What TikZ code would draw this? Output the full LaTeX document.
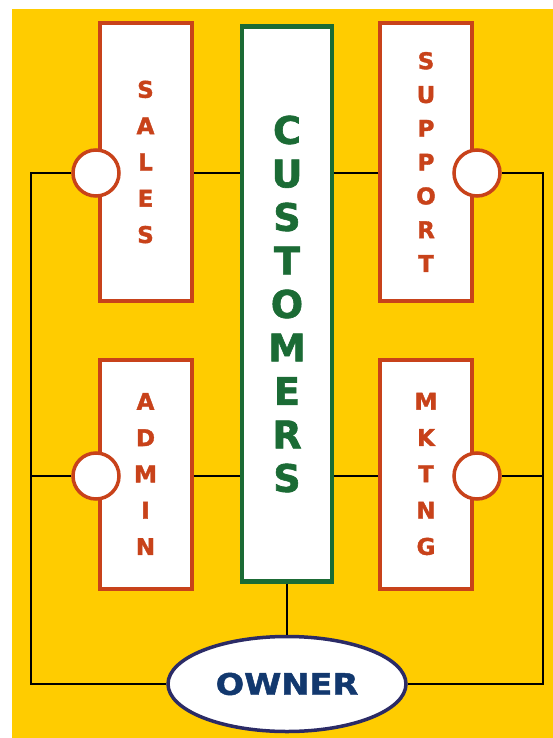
\documentclass[tikz,border=0pt]{standalone}
\usepackage{fontspec}
\usepackage{tikz}
\usetikzlibrary{shapes.geometric}
\newfontfamily\boxfont{DejaVu Sans}[FakeBold=1.6]
\newfontfamily\ownerfont{DejaVu Sans}[FakeStretch=1.14,FakeBold=1.6]
\definecolor{bgYellow}{RGB}{255,204,0}
\definecolor{deptRed}{RGB}{200,66,26}
\definecolor{custGreen}{RGB}{27,107,53}
\definecolor{ownNavy}{RGB}{18,56,110}
\definecolor{ownRim}{RGB}{43,43,102}
\tikzset{
  dept/.style={draw=deptRed,line width=4pt,fill=white,minimum width=92pt,
    inner sep=0pt,align=center,text=deptRed,
    font=\boxfont\bfseries\fontsize{23}{36.3}\selectfont},
  port/.style={circle,draw=deptRed,line width=3.5pt,fill=white,minimum size=46pt,inner sep=0pt},
  link/.style={black,line width=1.4pt}
}
\begin{document}
\begin{tikzpicture}[x=1pt,y=-1pt]
  \useasboundingbox (0,0) rectangle (553,738);
  \fill[white] (0,0) rectangle (553,738);
  \fill[bgYellow] (12,9) rectangle (553,738);
  % departments
  \node[dept,minimum height=277pt] (sales) at (145.5,162) {S\\A\\L\\E\\S};
  \node[dept,minimum height=277pt,font=\boxfont\bfseries\fontsize{23}{33.8}\selectfont]
    (support) at (426,162) {S\\U\\P\\P\\O\\R\\T};
  \node[dept,minimum height=229pt] (admin) at (145.5,474) {A\\D\\M\\I\\N};
  \node[dept,minimum height=229pt] (mktng) at (426,474) {M\\K\\T\\N\\G};
  \node[draw=custGreen,line width=4.2pt,fill=white,minimum width=90pt,minimum height=555pt,
    inner sep=0pt,align=center,text=custGreen,
    font=\boxfont\bfseries\fontsize{38}{43.5}\selectfont]
    (cust) at (287,304) {C\\U\\S\\T\\O\\M\\E\\R\\S};
  \node[ellipse,draw=ownRim,line width=3.5pt,fill=white,minimum width=238pt,minimum height=95pt,
    inner sep=0pt,text=ownNavy,font=\ownerfont\bfseries\fontsize{29.5}{30}\selectfont]
    (owner) at (287,684) {OWNER};
  % ports
  \node[port] (salesp) at (96,173) {};
  \node[port] (suppp) at (477,173) {};
  \node[port] (adminp) at (96,476) {};
  \node[port] (mktp) at (477,476) {};
  \coordinate (lb) at (31,684);
  \coordinate (rb) at (543,684);
  % connectors
  \draw[link] (salesp.west) -| (lb) -- (owner.west);
  \draw[link] (suppp.east) -| (rb) -- (owner.east);
  \draw[link] (adminp.west) -- (adminp.west -| lb);
  \draw[link] (mktp.east) -- (mktp.east -| rb);
  \draw[link] (sales.east |- salesp) -- (cust.west |- salesp);
  \draw[link] (support.west |- suppp) -- (cust.east |- suppp);
  \draw[link] (admin.east |- adminp) -- (cust.west |- adminp);
  \draw[link] (mktng.west |- mktp) -- (cust.east |- mktp);
  \draw[link] (cust.south) -- (owner.north);
\end{tikzpicture}
\end{document}
